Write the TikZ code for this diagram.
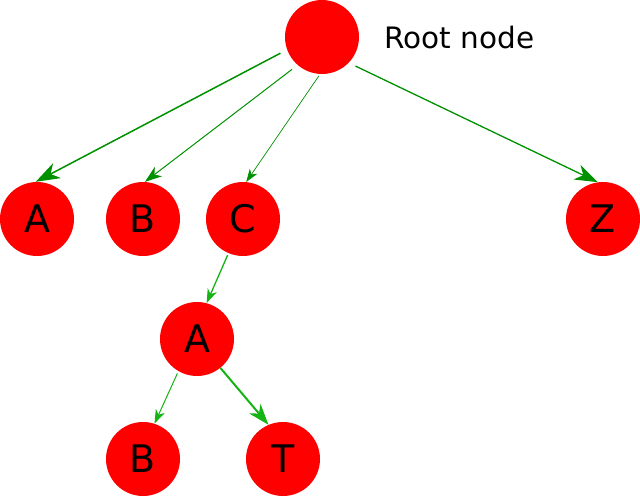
\documentclass[tikz,border=0pt]{standalone}
\usepackage{fontspec}
\setmainfont{DejaVu Sans}
\usetikzlibrary{arrows.meta}

\definecolor{nodered}{RGB}{255,0,0}
\definecolor{topgreen}{RGB}{0,145,0}
\definecolor{lowgreen}{RGB}{20,180,20}

\tikzset{
	treenode/.style={circle, fill=nodered, inner sep=0pt, minimum size=74pt,
		font=\fontsize{38}{38}\selectfont},
	link/.style={draw=topgreen, -{Stealth[length=#1, width=0.7*#1, inset=0.3*#1]}},
	link/.default=18pt,
	sublink/.style={link=#1, draw=lowgreen},
}

\begin{document}
\begin{tikzpicture}[x=1pt, y=-1pt]
	\useasboundingbox (0, 0) rectangle (640, 496);
	\node (root) at (322, 37) [treenode] {};
	\node (rootlabel) at (381, 48) [anchor=base west,
		font=\fontsize{29.5}{29.5}\selectfont] {Root node};
	\node (A1) at (37, 219) [treenode] {A};
	\node (B1) at (143, 219) [treenode] {B};
	\node (C1) at (243, 219) [treenode] {C};
	\node (Z1) at (603, 219) [treenode] {Z};
	\node (A2) at (197, 339) [treenode] {A};
	\node (B2) at (143, 459) [treenode] {B};
	\node (T2) at (283, 459) [treenode] {T};
	% root to first level
	\draw[link=24pt, line width=1.5pt, shorten <=7.5pt] (root.200) -- (A1.92);
	\draw[link=17pt, line width=1pt, shorten <=7pt] (root.229) -- (B1.87);
	\draw[link=13pt, line width=0.7pt, shorten <=2pt] (root.267) -- (C1.85);
	\draw[link=23pt, line width=1.3pt, shorten <=7.5pt] (root.316) -- (Z1.98);
	% lower levels
	\draw[sublink=14pt, line width=1.3pt, shorten <=2pt] (C1.247) -- (A2.75);
	\draw[sublink=14pt, line width=1pt, shorten <=2.5pt] (A2.240) -- (B2.72);
	\draw[sublink=21pt, line width=2pt] (A2.309) -- (T2.113);
\end{tikzpicture}
\end{document}
